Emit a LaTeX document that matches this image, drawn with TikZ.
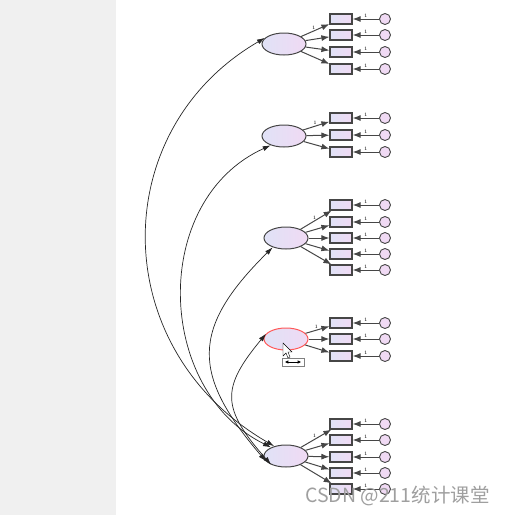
\documentclass[tikz,border=0pt]{standalone}
\usepackage{fontspec}
\newfontfamily\cjkfont{Noto Sans CJK SC}
\usetikzlibrary{arrows.meta,shapes.geometric}
\definecolor{lavl}{RGB}{224,226,246}
\definecolor{lavr}{RGB}{240,218,244}
\definecolor{edge}{RGB}{70,70,70}
\definecolor{band}{RGB}{240,240,240}
\begin{document}
\begin{tikzpicture}[x=1pt, y=-1pt,
    latent/.style={ellipse, draw=edge, line width=1pt, minimum width=44pt, minimum height=22pt, inner sep=0pt, left color=lavl, right color=lavr},
    obs/.style={rectangle, draw=edge, line width=1.2pt, minimum width=22pt, minimum height=10pt, inner sep=0pt, left color=lavl, right color=lavr},
    err/.style={circle, draw=edge, line width=0.9pt, minimum size=11pt, inner sep=0pt, fill=lavr},
    path/.style={draw=edge, line width=1pt, -{Latex[length=8pt,width=6pt]}},
    cov/.style={draw=black!85, line width=0.7pt, {Latex[length=8pt,width=5pt]}-{Latex[length=8pt,width=5pt]}},
    one/.style={above, inner sep=1pt, font=\fontsize{5}{5}\selectfont}]
    % frame
    \useasboundingbox (0,0) rectangle (510,515);
    \fill[band] (0,0) rectangle (116,515);
    % factors
    \node[latent] (F1) at (284,44) {};
    \node[latent] (F2) at (284,136) {};
    \node[latent] (F3) at (286,238) {};
    \node[latent, draw=red!65] (F4) at (286,339) {};
    \node[latent] (F5) at (286,456) {};
    % F1
    \node[obs] (a1) at (341,19) {}; \node[err] (ea1) at (385,19) {}; \draw[path] (F1) -- node[one, pos=0.45] {1} (a1); \draw[path] (ea1) -- node[one] {1} (a1);
    \node[obs] (a2) at (341,35) {}; \node[err] (ea2) at (385,35) {}; \draw[path] (F1) -- (a2); \draw[path] (ea2) -- node[one] {1} (a2);
    \node[obs] (a3) at (341,52) {}; \node[err] (ea3) at (385,52) {}; \draw[path] (F1) -- (a3); \draw[path] (ea3) -- node[one] {1} (a3);
    \node[obs] (a4) at (341,69) {}; \node[err] (ea4) at (385,69) {}; \draw[path] (F1) -- (a4); \draw[path] (ea4) -- node[one] {1} (a4);
    % F2
    \node[obs] (b1) at (341,118) {}; \node[err] (eb1) at (385,118) {}; \draw[path] (F2) -- node[one, pos=0.45] {1} (b1); \draw[path] (eb1) -- node[one] {1} (b1);
    \node[obs] (b2) at (341,135) {}; \node[err] (eb2) at (385,135) {}; \draw[path] (F2) -- (b2); \draw[path] (eb2) -- node[one] {1} (b2);
    \node[obs] (b3) at (341,152) {}; \node[err] (eb3) at (385,152) {}; \draw[path] (F2) -- (b3); \draw[path] (eb3) -- node[one] {1} (b3);
    % F3
    \node[obs] (c1) at (341,205) {}; \node[err] (ec1) at (385,205) {}; \draw[path] (F3) -- node[one, pos=0.45] {1} (c1); \draw[path] (ec1) -- node[one] {1} (c1);
    \node[obs] (c2) at (341,222) {}; \node[err] (ec2) at (385,222) {}; \draw[path] (F3) -- (c2); \draw[path] (ec2) -- node[one] {1} (c2);
    \node[obs] (c3) at (341,238) {}; \node[err] (ec3) at (385,238) {}; \draw[path] (F3) -- (c3); \draw[path] (ec3) -- node[one] {1} (c3);
    \node[obs] (c4) at (341,254) {}; \node[err] (ec4) at (385,254) {}; \draw[path] (F3) -- (c4); \draw[path] (ec4) -- node[one] {1} (c4);
    \node[obs] (c5) at (341,270) {}; \node[err] (ec5) at (385,270) {}; \draw[path] (F3) -- (c5); \draw[path] (ec5) -- node[one] {1} (c5);
    % F4
    \node[obs] (d1) at (341,323) {}; \node[err] (ed1) at (385,323) {}; \draw[path] (F4) -- node[one, pos=0.45] {1} (d1); \draw[path] (ed1) -- node[one] {1} (d1);
    \node[obs] (d2) at (341,339) {}; \node[err] (ed2) at (385,339) {}; \draw[path] (F4) -- (d2); \draw[path] (ed2) -- node[one] {1} (d2);
    \node[obs] (d3) at (341,356) {}; \node[err] (ed3) at (385,356) {}; \draw[path] (F4) -- (d3); \draw[path] (ed3) -- node[one] {1} (d3);
    % F5
    \node[obs] (g1) at (341,424) {}; \node[err] (eg1) at (385,424) {}; \draw[path] (F5) -- node[one, pos=0.45] {1} (g1); \draw[path] (eg1) -- node[one] {1} (g1);
    \node[obs] (g2) at (341,440) {}; \node[err] (eg2) at (385,440) {}; \draw[path] (F5) -- (g2); \draw[path] (eg2) -- node[one] {1} (g2);
    \node[obs] (g3) at (341,457) {}; \node[err] (eg3) at (385,457) {}; \draw[path] (F5) -- (g3); \draw[path] (eg3) -- node[one] {1} (g3);
    \node[obs] (g4) at (341,473) {}; \node[err] (eg4) at (385,473) {}; \draw[path] (F5) -- (g4); \draw[path] (eg4) -- node[one] {1} (g4);
    \node[obs] (g5) at (341,489) {}; \node[err] (eg5) at (385,489) {}; \draw[path] (F5) -- (g5); \draw[path] (eg5) -- node[one] {1} (g5);
    % covariances
    \draw[cov] (F1.162) .. controls (106,130) and (106,349) .. (F5.140);
    \draw[cov] (F2.215) .. controls (150,200) and (155,390) .. (F5.150);
    \draw[cov] (F3.215) .. controls (190,329) and (192,375) .. (F5.195);
    \draw[cov] (F4.165) .. controls (221,388) and (221,408) .. (F5.210);
    % cursor and tooltip
    \draw[black, fill=white, line width=0.4pt] (283,343) -- (283,356) -- (286,353) -- (288,358) -- (290,357) -- (288,352) -- (292,352) -- cycle;
    \node[draw=gray, fill=white, minimum width=22pt, minimum height=8pt, inner sep=0pt] (tip) at (293,362) {};
    \draw[{Latex[length=3.5pt,width=3.5pt]}-{Latex[length=3.5pt,width=3.5pt]}, line width=0.7pt] ([xshift=3pt]tip.west) -- ([xshift=-3pt]tip.east);
    % watermark
    \node[anchor=west, inner sep=0pt, text=gray!75, font=\cjkfont\fontsize{19.5}{19.5}\selectfont] (mark) at (305,496) {CSDN @211统计课堂};
\end{tikzpicture}
\end{document}
